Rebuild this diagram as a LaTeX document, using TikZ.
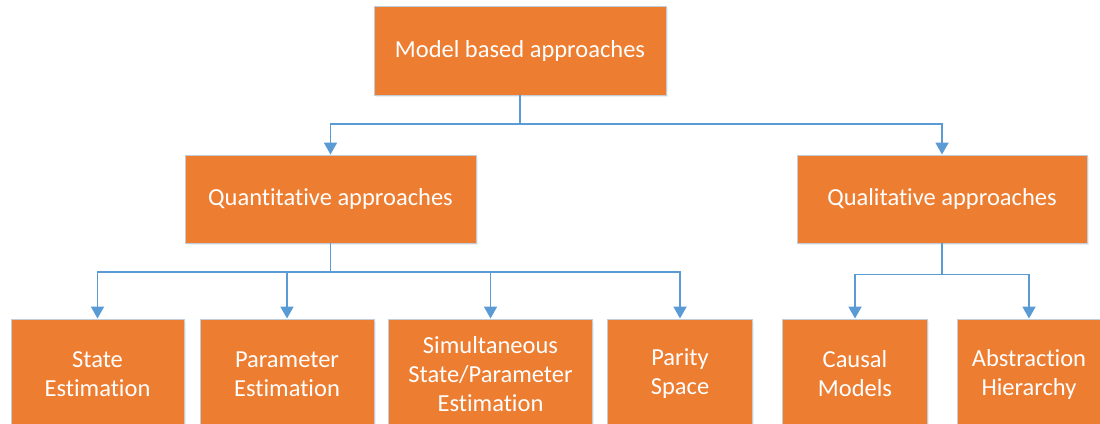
\documentclass[tikz,border=0pt]{standalone}
\usepackage{fontspec}
\setmainfont{Carlito}[RawFeature={-liga;-clig;-dlig}]
\usetikzlibrary{arrows.meta,shadows}
\definecolor{boxfill}{HTML}{ED7D31}
\definecolor{boxedge}{HTML}{C3CDD8}
\definecolor{linkblue}{HTML}{5B9BD5}
\begin{document}
\begin{tikzpicture}[x=1pt,y=-1pt,
  box/.style={rectangle, draw=boxedge, line width=0.9pt, fill=boxfill,
    text=white, align=center, inner sep=0pt,
    font=\fontsize{24.5}{29}\selectfont,
    drop shadow={opacity=0.12, shadow xshift=1.5pt, shadow yshift=-1.5pt}},
  conn/.style={draw=linkblue, line width=1.8pt,
    -{Triangle[width=13pt,length=12pt]}}]
\useasboundingbox (0,0) rectangle (1100,423);
\begin{scope}
\clip (0,0) rectangle (1100,423);
% root
\node[box, minimum width=292, minimum height=89] (root) at (520,50.5) {Model based approaches};
% second level
\node[box, minimum width=291, minimum height=88] (quant) at (330.5,199) {Quantitative approaches};
\node[box, minimum width=290, minimum height=88] (qual) at (942,199) {Qualitative approaches};
% leaves (running past the lower edge)
\node[box, minimum width=173, minimum height=110] (state) at (97.5,374) {State\\Estimation};
\node[box, minimum width=174, minimum height=110] (param) at (287,374) {Parameter\\Estimation};
\node[box, minimum width=204, minimum height=110] (simul) at (490.5,374) {Simultaneous\\State/Parameter\\Estimation};
\node[box, minimum width=145, minimum height=110] (parity) at (680,374) {Parity\\Space};
\node[box, minimum width=145, minimum height=110] (causal) at (855,374) {Causal\\Models};
\node[box, minimum width=144, minimum height=110] (abstr) at (1029,374) {Abstraction\\Hierarchy};
\end{scope}
% junction points of the elbow connectors
\coordinate (jroot) at (520,124);
\coordinate (jquant) at (330.5,272);
\coordinate (jqual) at (942,274.5);
\draw[conn] (root.south) -- (jroot) -| (quant.north);
\draw[conn] (jroot) -| (qual.north);
\draw[conn] (quant.south) -- (jquant) -| (state.north);
\draw[conn] (jquant) -| (param.north);
\draw[conn] (jquant) -| (simul.north);
\draw[conn] (jquant) -| (parity.north);
\draw[conn] (qual.south) -- (jqual) -| (causal.north);
\draw[conn] (jqual) -| (abstr.north);
\end{tikzpicture}
\end{document}
